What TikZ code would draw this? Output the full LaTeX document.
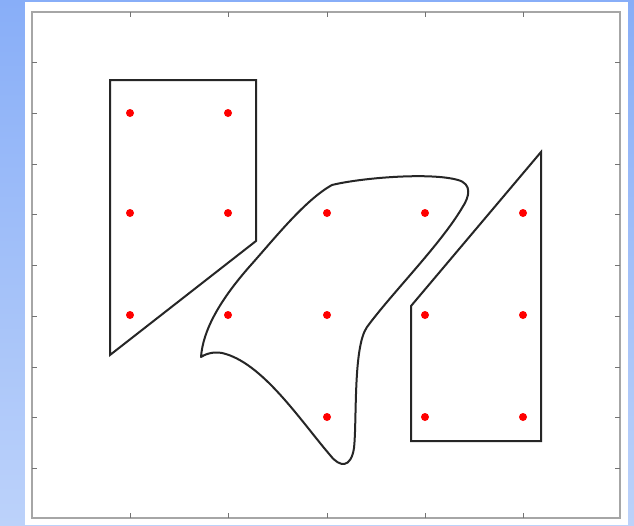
\documentclass[tikz,border=0pt]{standalone}
\begin{document}
\begin{tikzpicture}[x=1pt,y=-1pt,
  shape line/.style={draw=black!85,line width=2pt,line join=miter},
  frame line/.style={draw=black!35,line width=1.6pt},
  tick line/.style={draw=black!55,line width=1pt},
  reddot/.style={fill=red}]
\useasboundingbox (0,0) rectangle (634,525);
% background
\shade[top color={rgb,255:red,136;green,174;blue,248},bottom color={rgb,255:red,188;green,210;blue,250}] (0,0) rectangle (634,525);
\fill[white] (25,2) rectangle (628,525);
% frame
\draw[frame line] (32,12) rectangle (620,518);
% ticks
\foreach \x in {130,228,327,425,523}{
  \draw[tick line] (\x,12) -- (\x,17);
  \draw[tick line] (\x,518) -- (\x,513);
}
\foreach \y in {62,113,164,214,265,316,367,417,468}{
  \draw[tick line] (32,\y) -- (37,\y);
  \draw[tick line] (620,\y) -- (615,\y);
}
% left polygon
\draw[shape line] (110,80) -- (256,80) -- (256,241) -- (110,355) -- cycle;
% right polygon
\draw[shape line] (541,152) -- (541,441) -- (411,441) -- (411,306) -- cycle;
% blob
\draw[shape line,line join=round]
  (332,185) .. controls (360,178) and (430,172) .. (458,180)
  .. controls (472,184) and (470,196) .. (462,208)
  .. controls (440,245) and (392,293) .. (367,327)
  .. controls (353,347) and (357,420) .. (354,448)
  .. controls (351,468) and (340,468) .. (330,455)
  .. controls (300,420) and (262,362) .. (222,353)
  .. controls (212,351) and (204,355) .. (201,357)
  .. controls (203,330) and (220,300) .. (250,266)
  .. controls (275,238) and (305,200) .. (332,185) -- cycle;
% dots
\foreach \p in {(130,113),(228,113),(130,213),(228,213),(327,213),(425,213),(523,213),
  (130,315),(228,315),(327,315),(425,315),(523,315),(327,417),(425,417),(523,417)}{
  \fill[reddot] \p circle (4);
}
\end{tikzpicture}
\end{document}
